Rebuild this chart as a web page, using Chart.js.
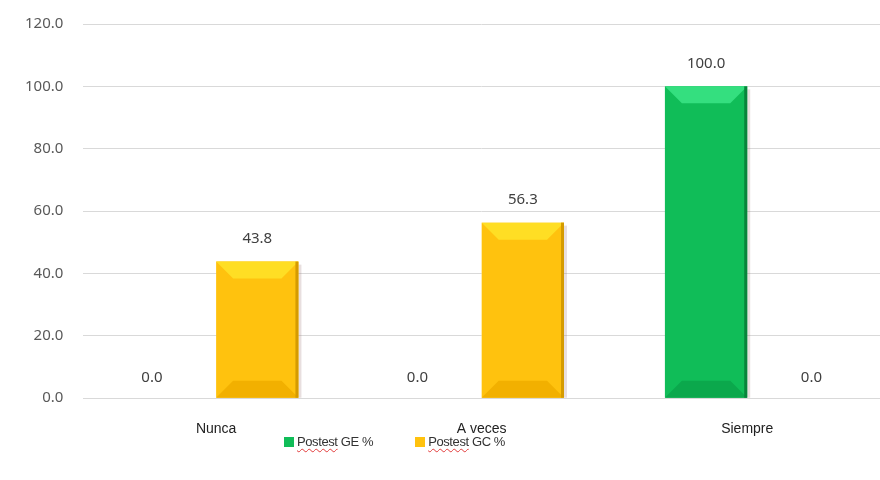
<!DOCTYPE html>
<html>
<head>
<meta charset="utf-8">
<script src="https://cdn.jsdelivr.net/npm/chart.js@4.4.0/dist/chart.umd.min.js"></script>
<style>
  html, body { margin: 0; padding: 0; background: #fff; overflow: hidden; }
  #wrap { position: relative; width: 880px; height: 480px; overflow: hidden; }
  #myChart { display: block; margin-top: -5px; }
  #legend {
    position: absolute; top: 434px; left: 284px;
    font-family: "Liberation Sans", Arial, sans-serif; font-size: 13px; color: #333;
    letter-spacing: -0.4px;
  }
  #legend span.item { margin-right: 42px; }
  #legend i { display: inline-block; width: 10px; height: 10px; margin-right: 3px; vertical-align: -1px; }
  #legend u { text-decoration: underline wavy #e23b3b; text-decoration-thickness: 1px; text-underline-offset: 2px; }
</style>
</head>
<body>
<div id="wrap">
  <canvas id="myChart" width="880" height="485"></canvas>
  <div id="legend"></div>
</div>
<script>
const categories = ['Nunca', 'A veces', 'Siempre'];
const seriesNames = ['Postest GE %', 'Postest GC %'];
const postestGE = [0.0, 0.0, 100.0];
const postestGC = [43.8, 56.3, 0.0];
const yTicks = [0, 20, 40, 60, 80, 100, 120];

const fills = [
    { main: '#10bd58', light: '#34df7f', dark: '#0ba84c', edge: '#08843b' },
    { main: '#ffc20e', light: '#ffde24', dark: '#f2b000', edge: '#d59b00' }
];

// legend (HTML so it can sit left of centre like the original)
document.getElementById('legend').innerHTML = seriesNames.map((name, i) => {
    const parts = name.split(' ');
    return '<span class="item"><i style="background:' + fills[i].main + '"></i><u>' + parts[0] + '</u> ' + parts.slice(1).join(' ') + '</span>';
}).join('');

// bevel look + value labels
const bevelBars = {
    id: 'bevelBars',
    afterDatasetsDraw(chart) {
        const ctx = chart.ctx;
        chart.data.datasets.forEach((ds, di) => {
            const meta = chart.getDatasetMeta(di);
            const c = fills[di];
            meta.data.forEach((bar, i) => {
                const v = ds.data[i];
                const w = bar.width, l = bar.x - w / 2, r = bar.x + w / 2;
                const t = bar.y, b = bar.base, h = b - t;
                if (h > 1) {
                    const bv = Math.min(17, h / 2);
                    ctx.save();
                    // shadow to the right
                    ctx.fillStyle = 'rgba(150,110,110,0.22)';
                    ctx.fillRect(r, t + 3, 3, h - 3);
                    // top bevel
                    ctx.fillStyle = c.light;
                    ctx.beginPath();
                    ctx.moveTo(l, t); ctx.lineTo(r, t); ctx.lineTo(r - bv, t + bv); ctx.lineTo(l + bv, t + bv);
                    ctx.closePath(); ctx.fill();
                    // bottom bevel
                    ctx.fillStyle = c.dark;
                    ctx.beginPath();
                    ctx.moveTo(l, b); ctx.lineTo(r, b); ctx.lineTo(r - bv, b - bv); ctx.lineTo(l + bv, b - bv);
                    ctx.closePath(); ctx.fill();
                    // right edge
                    ctx.fillStyle = c.edge;
                    ctx.fillRect(r - 3, t, 3, h);
                    ctx.restore();
                }
                // value label
                let lx = bar.x;
                if (v === 0) lx += (di === 0 ? -1 : 1) * w * 0.28;
                ctx.save();
                ctx.font = '15px "Noto Sans", "DejaVu Sans", sans-serif';
                ctx.fillStyle = '#404040';
                ctx.textAlign = 'center';
                ctx.textBaseline = 'middle';
                ctx.fillText(v.toFixed(1), lx, t - (v === 0 ? 20 : 23));
                ctx.restore();
            });
        });
    }
};

const ctx = document.getElementById('myChart').getContext('2d');
const myChart = new Chart(ctx, {
    type: 'bar',
    data: {
        labels: categories,
        datasets: [{
                label: seriesNames[0],
                data: postestGE,
                backgroundColor: fills[0].main,
                borderWidth: 0
            },
            {
                label: seriesNames[1],
                data: postestGC,
                backgroundColor: fills[1].main,
                borderWidth: 0
            }
        ]
    },
    options: {
        responsive: false,
        animation: false,
        layout: { padding: { left: 5, right: 0, top: 6, bottom: 27 } },
        categoryPercentage: 0.62,
        barPercentage: 1.0,
        plugins: {
            legend: { display: false },
            tooltip: { enabled: false }
        },
        scales: {
            x: {
                grid: { display: false },
                border: { color: '#d9d9d9', width: 1 },
                ticks: {
                    color: '#222',
                    font: { family: '"Liberation Sans", Arial, sans-serif', size: 14 },
                    padding: 15
                }
            },
            y: {
                min: yTicks[0],
                max: yTicks[yTicks.length - 1],
                afterBuildTicks(axis) { axis.ticks = yTicks.map(v => ({ value: v })); },
                grid: { color: '#d9d9d9', drawTicks: false },
                border: { display: false },
                ticks: {
                    color: '#595959',
                    padding: 20,
                    font: { family: '"Noto Sans", "DejaVu Sans", sans-serif', size: 15 },
                    callback: (v) => Number(v).toFixed(1)
                }
            }
        }
    },
    plugins: [bevelBars]
});
</script>
</body>
</html>
